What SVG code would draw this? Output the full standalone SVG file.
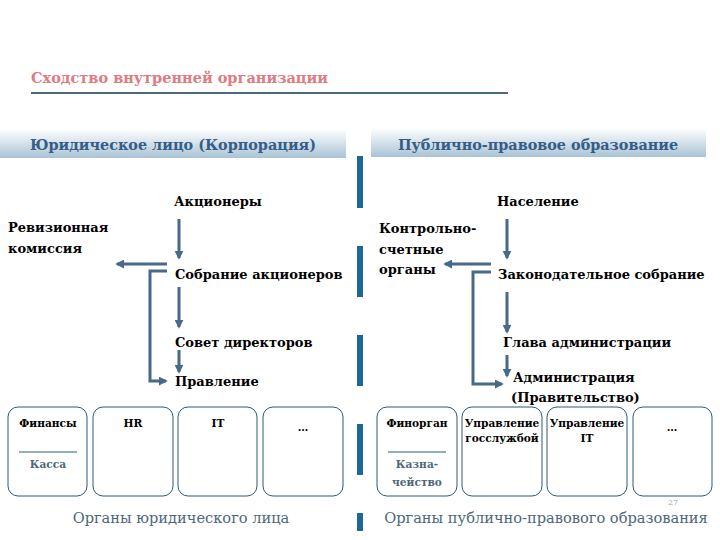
<svg xmlns="http://www.w3.org/2000/svg" width="720" height="540" viewBox="0 0 720 540">
<defs>
<linearGradient id="hdr" x1="0" y1="0" x2="0" y2="1">
<stop offset="0" stop-color="#ffffff"/>
<stop offset="1" stop-color="#a9c3d6"/>
</linearGradient>
<marker id="ah" viewBox="0 0 10 10" refX="8" refY="5" markerWidth="3" markerHeight="3" orient="auto" markerUnits="strokeWidth">
<path d="M0,0 L10,5 L0,10 z" fill="#47698a"/>
</marker>
</defs>
<style>
.t{font-family:"DejaVu Serif","Liberation Serif",serif;fill:#000}
.b{font-weight:bold}
.n{font-size:13px}
.sm{font-size:10.6px;font-weight:bold}
.hd{font-size:14.4px;font-weight:bold;fill:#355d86}
.ft{font-size:14.6px;fill:#4c6779}
.box{fill:#fff;stroke:#2e5c72;stroke-width:1}
.ar{fill:none;stroke:#47698a;stroke-width:3;marker-end:url(#ah)}
.dash{fill:#1b6796}
</style>
<rect width="720" height="540" fill="#fff"/>
<g id="title">
<text class="t b" x="31" y="83" font-size="14.5" style="fill:#e07b7f">Сходство внутренней организации</text>
<line x1="31" y1="93" x2="508" y2="93" stroke="#4a6a80" stroke-width="2"/>
</g>
<g id="header-left">
<rect x="0" y="129" width="346" height="29" fill="url(#hdr)"/>
<text class="t hd" x="173" y="150" text-anchor="middle">Юридическое лицо (Корпорация)</text>
</g>
<g id="header-right">
<rect x="371" y="128" width="335" height="29" fill="url(#hdr)"/>
<text class="t hd" x="538" y="150" text-anchor="middle">Публично-правовое образование</text>
</g>
<g id="divider">
<rect class="dash" x="357" y="156" width="6" height="52"/>
<rect class="dash" x="357" y="246" width="6" height="51"/>
<rect class="dash" x="357" y="335" width="6" height="51"/>
<rect class="dash" x="357" y="424" width="6" height="51"/>
<rect class="dash" x="357" y="513" width="6" height="18"/>
</g>
<g id="connectors">
<line class="ar" x1="179" y1="219" x2="179" y2="258"/>
<line class="ar" x1="167" y1="264" x2="117" y2="264"/>
<polyline class="ar" points="167,271 150,271 150,381 166,381"/>
<line class="ar" x1="179" y1="287" x2="179" y2="327"/>
<line class="ar" x1="179" y1="350" x2="179" y2="372"/>
<line class="ar" x1="507" y1="219" x2="507" y2="258"/>
<line class="ar" x1="491" y1="264" x2="445" y2="264"/>
<polyline class="ar" points="491,272 473,272 473,384 502,384"/>
<line class="ar" x1="507" y1="292" x2="507" y2="332"/>
<line class="ar" x1="507" y1="355" x2="507" y2="376"/>
</g>
<g id="n-aktsionery"><text class="t b n" x="174" y="206">Акционеры</text></g>
<g id="n-revizion"><text class="t b n" x="8" y="232">Ревизионная</text><text class="t b n" x="8" y="253">комиссия</text></g>
<g id="n-sobranie"><text class="t b n" x="175" y="279">Собрание акционеров</text></g>
<g id="n-sovet"><text class="t b n" x="175" y="347">Совет директоров</text></g>
<g id="n-pravlenie"><text class="t b n" x="175" y="386">Правление</text></g>
<g id="n-naselenie"><text class="t b n" x="497" y="206">Население</text></g>
<g id="n-kontrol"><text class="t b n" x="379" y="233">Контрольно-</text><text class="t b n" x="379" y="254">счетные</text><text class="t b n" x="379" y="274">органы</text></g>
<g id="n-zakon"><text class="t b n" x="498" y="279">Законодательное собрание</text></g>
<g id="n-glava"><text class="t b n" x="503" y="347">Глава администрации</text></g>
<g id="n-admin"><text class="t b n" x="513" y="382">Администрация</text><text class="t b n" x="511" y="402">(Правительство)</text></g>
<g id="box-finansy">
<rect class="box" x="8" y="407" width="79" height="89" rx="10"/>
<text class="t sm" x="48" y="427" text-anchor="middle">Финансы</text>
<line x1="19" y1="452" x2="77" y2="452" stroke="#2e5c72" stroke-width="1"/>
<text class="t sm" x="48" y="468" text-anchor="middle" style="fill:#4c6779">Касса</text>
</g>
<g id="box-hr">
<rect class="box" x="93" y="407" width="80" height="89" rx="10"/>
<text class="t sm" x="133" y="427" text-anchor="middle">HR</text>
</g>
<g id="box-it">
<rect class="box" x="178" y="407" width="79" height="89" rx="10"/>
<text class="t sm" x="218" y="427" text-anchor="middle">IT</text>
</g>
<g id="box-etc-left">
<rect class="box" x="263" y="407" width="80" height="89" rx="10"/>
<text class="t sm" x="303" y="431" text-anchor="middle" font-size="14">…</text>
</g>
<g id="box-finorgan">
<rect class="box" x="377" y="407" width="80" height="89" rx="10"/>
<text class="t sm" x="417" y="427" text-anchor="middle">Финорган</text>
<line x1="388" y1="452" x2="446" y2="452" stroke="#2e5c72" stroke-width="1"/>
<text class="t sm" x="417" y="468" text-anchor="middle" style="fill:#4c6779">Казна-</text>
<text class="t sm" x="417" y="486" text-anchor="middle" style="fill:#4c6779">чейство</text>
</g>
<g id="box-gossluzhba">
<rect class="box" x="462" y="407" width="80" height="89" rx="10"/>
<text class="t sm" x="502" y="427" text-anchor="middle">Управление</text>
<text class="t sm" x="502" y="442" text-anchor="middle">госслужбой</text>
</g>
<g id="box-upr-it">
<rect class="box" x="547" y="407" width="80" height="89" rx="10"/>
<text class="t sm" x="587" y="427" text-anchor="middle">Управление</text>
<text class="t sm" x="587" y="442" text-anchor="middle">IT</text>
</g>
<g id="box-etc-right">
<rect class="box" x="633" y="407" width="79" height="89" rx="10"/>
<text class="t sm" x="672" y="431" text-anchor="middle" font-size="14">…</text>
</g>
<g id="footer">
<text class="t ft" x="181" y="523" text-anchor="middle">Органы юридического лица</text>
<text class="t ft" x="546" y="523" text-anchor="middle">Органы публично-правового образования</text>
<text class="t" x="668" y="505" font-size="8" style="fill:#9aa">27</text>
</g>
</svg>
